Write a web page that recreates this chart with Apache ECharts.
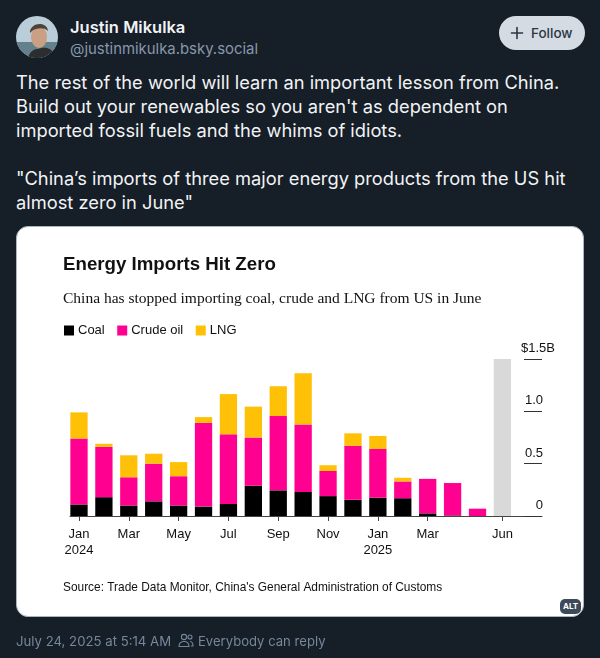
<!DOCTYPE html>
<html>
<head>
<meta charset="utf-8">
<script src="https://cdn.jsdelivr.net/npm/echarts@6/dist/echarts.min.js"></script>
<style>
html, body { margin: 0; padding: 0; width: 600px; height: 658px; overflow: hidden; background: #161e27; font-family: Inter, sans-serif; }
.abs { position: absolute; white-space: nowrap; }
#avatar { left: 16px; top: 16px; width: 42px; height: 42px; border-radius: 50%; overflow: hidden; }
#name { left: 70px; top: 17px; font-size: 16.5px; font-weight: 600; color: #f1f3f5; line-height: 20px; }
#handle { left: 70px; top: 39px; font-size: 14.9px; color: #8798ac; line-height: 20px; }
#follow { left: 499px; top: 16px; width: 86px; height: 34px; border-radius: 17px; background: #d4dbe2; color: #2a3645; font-size: 13.5px; font-weight: 500; line-height: 34px; }
#follow span { position: absolute; left: 32px; }
#follow svg { position: absolute; left: 11px; top: 10px; }
#post { left: 16px; top: 70px; font-size: 18.3px; line-height: 24px; color: #f1f3f5; }
#card { left: 16px; top: 226px; width: 566px; height: 389px; background: #fff; border: 1px solid #a9b5c2; border-radius: 12px; }
#chart { left: 0; top: 0; width: 600px; height: 658px; }
#alt { left: 560px; top: 599px; width: 21px; height: 15px; border-radius: 5px; background: #3d4a5a; color: #fff; font-size: 8px; font-weight: 700; line-height: 15px; text-align: center; }
#stamp { left: 16px; top: 631px; font-size: 13.2px; line-height: 20px; color: #75879b; }
#reply { left: 198px; top: 631px; font-size: 13.1px; line-height: 20px; color: #75879b; }
#people { left: 178px; top: 633px; }
</style>
</head>
<body>
<div class="abs" id="avatar">
<svg width="42" height="42" viewBox="0 0 42 42">
<rect width="42" height="42" fill="#b9ced9"/>
<rect y="26" width="42" height="16" fill="#64808c"/>
<path d="M12 42 C14 35 18 33 22 33 C28 31 36 30 40 42 Z" fill="#2b2d2f"/>
<ellipse cx="23" cy="21" rx="8" ry="11" fill="#c9a083"/>
<path d="M14 17 C13 7 31 4 32 15 C28 11 20 12 16 15 Z" fill="#4f4238"/>
</svg>
</div>
<div class="abs" id="name">Justin Mikulka</div>
<div class="abs" id="handle">@justinmikulka.bsky.social</div>
<div class="abs" id="follow">
<svg width="14" height="14" viewBox="0 0 14 14"><path d="M7 1.5V12.5M1.5 7H12.5" stroke="#2a3645" stroke-width="1.6" stroke-linecap="round"/></svg>
<span>Follow</span>
</div>
<div class="abs" id="post">The rest of the world will learn an important lesson from China.<br>Build out your renewables so you aren't as dependent on<br>imported fossil fuels and the whims of idiots.<br><br>"China’s imports of three major energy products from the US hit<br>almost zero in June"</div>
<div class="abs" id="card"></div>
<div class="abs" id="chart"></div>
<div class="abs" id="alt">ALT</div>
<div class="abs" id="stamp">July 24, 2025 at 5:14 AM</div>
<svg class="abs" id="people" width="16" height="15" viewBox="0 0 16 15" fill="none" stroke="#75879b" stroke-width="1.1"><circle cx="6" cy="4" r="2.6"/><path d="M1 13.5C1 10 3 8.5 6 8.5S11 10 11 13.5Z"/><circle cx="12" cy="4" r="2"/><path d="M12 8.5C14 8.7 15 10.5 15 13H13"/></svg>
<div class="abs" id="reply">Everybody can reply</div>
<script>
var myChart = echarts.init(document.getElementById('chart'), null, { renderer: 'canvas' });

var months = ['Jan\n2024', 'Feb', 'Mar', 'Apr', 'May', 'Jun', 'Jul', 'Aug', 'Sep', 'Oct', 'Nov', 'Dec', 'Jan\n2025', 'Feb', 'Mar', 'Apr', 'May', 'Jun'];
var labelledMonths = [0, 2, 4, 6, 8, 10, 12, 14, 17];
var coal = [0.11, 0.18, 0.10, 0.14, 0.10, 0.09, 0.115, 0.29, 0.245, 0.23, 0.19, 0.155, 0.175, 0.17, 0.025, 0.005, 0, 0];
var crude = [0.63, 0.48, 0.27, 0.36, 0.28, 0.80, 0.665, 0.46, 0.71, 0.645, 0.24, 0.515, 0.465, 0.16, 0.33, 0.31, 0.07, 0];
var lng = [0.25, 0.03, 0.21, 0.095, 0.135, 0.055, 0.385, 0.295, 0.285, 0.49, 0.055, 0.12, 0.125, 0.035, 0, 0, 0, 0];
var shaded = [0, 0, 0, 0, 0, 0, 0, 0, 0, 0, 0, 0, 0, 0, 0, 0, 0, 1.5];
var yTicks = [0, 0.5, 1.0, 1.5];
var yLabels = ['0', '0.5', '1.0', '$1.5B'];

// value first so the stack goes on y, the x axis is numeric to get the long baseline
function barSeries(name, values, color) {
    return {
        name: name,
        type: 'bar',
        stack: 'imports',
        barWidth: 17.3,
        encode: { x: 1, y: 0 },
        itemStyle: { color: color },
        data: values.map(function (v, i) { return [v, i]; })
    };
}

var option = {
    animation: false,
    backgroundColor: 'transparent',
    textStyle: { fontFamily: 'Liberation Sans' },
    title: [
        { text: 'Energy Imports Hit Zero', left: 58, top: 250, textStyle: { fontFamily: 'Liberation Sans', fontSize: 18.7, fontWeight: 'bold', color: '#111' } },
        { text: 'China has stopped importing coal, crude and LNG from US in June', left: 58, top: 286, textStyle: { fontFamily: 'Liberation Serif', fontSize: 15.5, fontWeight: 'normal', color: '#111' } },
        { text: "Source: Trade Data Monitor, China's General Administration of Customs", left: 58, top: 577, textStyle: { fontFamily: 'Liberation Sans', fontSize: 11.9, fontWeight: 'normal', color: '#111' } }
    ],
    legend: {
        left: 59,
        top: 319,
        icon: 'rect',
        itemWidth: 10,
        itemHeight: 10,
        itemGap: 12.5,
        textStyle: { fontFamily: 'Liberation Sans', fontSize: 13, color: '#111', padding: [0, 0, 0, -1] },
        data: ['Coal', 'Crude oil', 'LNG']
    },
    grid: { left: 70, right: 58, top: 359, bottom: 142 },
    xAxis: {
        type: 'value',
        min: -0.361,
        max: 18.59,
        splitLine: { show: false },
        axisLine: { show: true, onZero: true, lineStyle: { color: '#444', width: 1 } },
        axisTick: { show: true, length: 5, customValues: labelledMonths, lineStyle: { color: '#444' } },
        axisLabel: {
            customValues: labelledMonths,
            margin: 10,
            color: '#111',
            fontFamily: 'Liberation Sans',
            fontSize: 13,
            lineHeight: 16,
            formatter: function (v) { return months[v]; }
        }
    },
    yAxis: {
        type: 'value',
        position: 'right',
        min: 0,
        max: 1.5,
        interval: 0.5,
        splitLine: { show: false },
        axisLine: { show: false, onZero: false },
        axisTick: { show: true, inside: true, length: 18, lineStyle: { color: '#333' } },
        axisLabel: {
            inside: true,
            margin: -13,
            color: '#111',
            fontSize: 13,
            verticalAlign: 'bottom',
            padding: [0, 0, 4, 0],
            formatter: function (v) {
                var label = yLabels[yTicks.indexOf(v)];
                return v === 1.5 ? label : '{num|' + label + '}';
            },
            rich: { num: { fontFamily: 'Liberation Sans', fontSize: 13, color: '#111', padding: [0, 12, 0, 0] } }
        }
    },
    series: [
        barSeries('Coal', coal, '#000000'),
        barSeries('Crude oil', crude, '#ff0090'),
        barSeries('LNG', lng, '#ffc107'),
        barSeries('Shaded', shaded, '#d9d9d9')
    ]
};

myChart.setOption(option);
window.addEventListener('resize', myChart.resize);
</script>
</body>
</html>
